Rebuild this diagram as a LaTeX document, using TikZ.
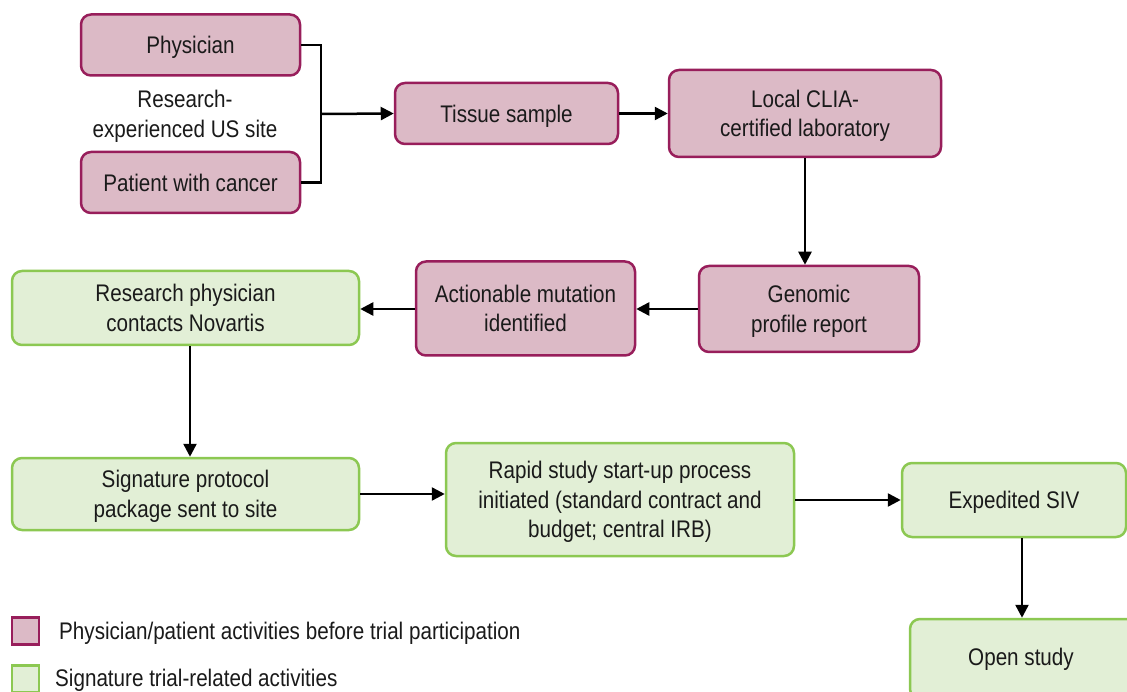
\documentclass[tikz,border=0pt]{standalone}
\usepackage{fontspec}
\setmainfont{Liberation Sans}[FakeStretch=0.86]
\usetikzlibrary{arrows.meta}
\definecolor{pinkfill}{HTML}{DCBAC6}
\definecolor{pinkline}{HTML}{981E5B}
\definecolor{greenfill}{HTML}{E2EFD6}
\definecolor{greenline}{HTML}{8CC852}
\definecolor{txt}{HTML}{1A1A1A}
\tikzset{
  box/.style={rounded corners=10pt, line width=2.5pt, inner sep=0pt, align=center, text=txt,
    text depth=0pt, font=\fontsize{24}{29.5}\selectfont},
  pinkbox/.style={box, draw=pinkline, fill=pinkfill},
  greenbox/.style={box, draw=greenline, fill=greenfill},
  arr/.style={line width=2.5pt, draw=black, -{Triangle[length=13pt,width=13pt]}},
  conn/.style={line width=2.5pt, draw=black},
  lbl/.style={text=txt, align=center, inner sep=0pt, text depth=0pt, font=\fontsize{24}{29.5}\selectfont},
}
\begin{document}
\begin{tikzpicture}[x=1pt,y=-1pt]
\useasboundingbox (0,0) rectangle (1127,692);
\clip (0,0) rectangle (1127,692);
\fill[white] (0,0) rectangle (1127,692);
% top row
\node[pinkbox, minimum width=219pt, minimum height=61pt] (phys) at (190.5,45) {Physician};
\node[pinkbox, minimum width=219pt, minimum height=61pt] (pat) at (190.5,182.5) {Patient with cancer};
\node[lbl] (site) at (185,114) {Research-\\experienced US site};
\node[pinkbox, minimum width=223pt, minimum height=61pt] (tissue) at (506.5,113.5) {Tissue sample};
\node[pinkbox, minimum width=272pt, minimum height=87pt] (clia) at (805,113.5) {Local CLIA-\\certified laboratory};
% second row
\node[pinkbox, minimum width=220pt, minimum height=86pt] (geno) at (809,309) {Genomic\\profile report};
\node[pinkbox, minimum width=219pt, minimum height=94pt] (act) at (525.5,308.5) {Actionable mutation\\identified};
\node[greenbox, minimum width=347pt, minimum height=74pt] (resph) at (185.5,308) {Research physician\\contacts Novartis};
% third row
\node[greenbox, minimum width=347pt, minimum height=72pt] (sig) at (185.5,494) {Signature protocol\\package sent to site};
\node[greenbox, minimum width=348pt, minimum height=113pt] (rapid) at (620,499.5) {Rapid study start-up process\\initiated (standard contract and\\budget; central IRB)};
\node[greenbox, minimum width=224pt, minimum height=74pt] (siv) at (1014,500) {Expedited SIV};
\node[greenbox, minimum width=226pt, minimum height=80pt] (open) at (1023,659) {};
\node[lbl] (opent) at (1021,657) {Open study};
% connectors
\coordinate (join) at (321,114);
\draw[conn] (phys.east) -| (join) |- (pat.east);
\draw[arr] (join) -- (tissue.west);
\draw[arr] (tissue.east) -- (clia.west |- tissue.east);
\draw[arr] (clia.south -| 805,0) -- (geno.north -| 805,0);
\draw[arr] (geno.west) -- (act.east |- geno.west);
\draw[arr] (act.west |- geno.west) -- (resph.east |- geno.west);
\draw[arr] (resph.south -| 190,0) -- (sig.north -| 190,0);
\draw[arr] (sig.east) -- (rapid.west |- sig.east);
\draw[arr] (rapid.east |- siv.west) -- (siv.west);
\draw[arr] (siv.south -| 1022,0) -- (open.north -| 1022,0);
% legend
\node[draw=pinkline, fill=pinkfill, line width=2.5pt, minimum size=27pt, inner sep=0pt] (lg1) at (25.5,631) {};
\node[lbl, anchor=west] (lt1) at (59,631) {Physician/patient activities before trial participation};
\node[draw=greenline, fill=greenfill, line width=2.5pt, minimum size=27pt, inner sep=0pt] (lg2) at (25.5,679) {};
\node[lbl, anchor=west] (lt2) at (55,678) {Signature trial-related activities};
\end{tikzpicture}
\end{document}
